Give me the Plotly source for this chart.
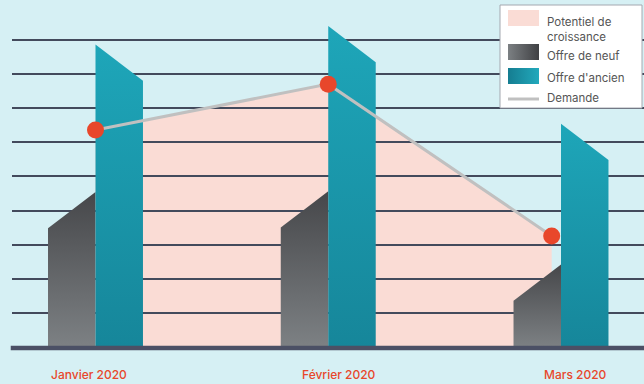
import plotly.graph_objects as go

# ---------------- data ----------------
months = ["Janvier 2020", "Février 2020", "Mars 2020"]
offre_neuf = [34.9, 35.1, 13.7]        # height of the new-supply bars (before slanted cap)
offre_ancien = [78.0, 83.4, 54.8]      # height of the old-supply bars (before slanted cap)
demande = [63.6, 77.0, 32.6]           # demand points
demande_pos = [0, 1, 1.96]             # category position of the demand points
label_pos = [-0.026, 1.046, 2.064]     # category position of the month labels
grid_vals = [10, 20, 30, 40, 50, 60, 70, 80, 90]
legend_labels = ["Potentiel de<br>croissance", "Offre de neuf", "Offre d'ancien", "Demande"]

# ---------------- style ----------------
BG = "#d6f0f4"
PINK = "#fadcd5"
GRID = "#434a5c"
BASE = "#4b5065"
RED = "#e8472b"
LINE = "#c0c0c0"
W = 0.204       # bar width in category units
CAP = 10.6      # slant of the bar tops

fig = go.Figure()

# bars
for i, (n, a) in enumerate(zip(offre_neuf, offre_ancien)):
    fig.add_trace(go.Scatter(
        x=[i - W, i - W, i, i, i - W], y=[0, n, n + CAP, 0, 0],
        mode="lines", line=dict(width=0), fill="toself",
        fillgradient=dict(type="vertical", colorscale=[[0, "#7d8184"], [1, "#46474a"]]),
        hoverinfo="skip", showlegend=False))
    fig.add_trace(go.Scatter(
        x=[i, i, i + W, i + W, i], y=[0, a + CAP, a, 0, 0],
        mode="lines", line=dict(width=0), fill="toself",
        fillgradient=dict(type="vertical", colorscale=[[0, "#16869a"], [1, "#1ea6b9"]]),
        hoverinfo="skip", showlegend=False))

# demand line + dots
fig.add_trace(go.Scatter(
    x=demande_pos, y=demande, mode="lines+markers",
    line=dict(color=LINE, width=3),
    marker=dict(size=17, color=RED, line=dict(width=0)),
    hoverinfo="skip", showlegend=False))

# pink "potentiel" area (below gridlines)
path = "M {} 0 ".format(demande_pos[0])
for x, y in zip(demande_pos, demande):
    path += "L {} {} ".format(x, y)
path += "L {} 0 Z".format(demande_pos[-1])
shapes = [
    dict(type="path", path=path, xref="x", yref="y", layer="below",
         fillcolor=PINK, line=dict(width=0)),
    dict(type="line", xref="paper", x0=-0.002, x1=1, yref="y", y0=-0.15, y1=-0.15,
         line=dict(color=BASE, width=4.5), layer="above"),
]

annotations = []
for lp, m in zip(label_pos, months):
    annotations.append(dict(x=lp, y=-7.8, xref="x", yref="y", text=m, showarrow=False,
                            xanchor="center", yanchor="middle",
                            font=dict(family="Inter", size=12, color=RED, weight=500)))

# ---------------- custom legend (pixel overlay axes) ----------------
fig.add_trace(go.Scatter(
    x=[500, 642, 642, 500, 500], y=[5, 5, 108, 108, 5], xaxis="x2", yaxis="y2",
    mode="lines", line=dict(color="#a4a8b0", width=1), fill="toself", fillcolor="white",
    hoverinfo="skip", showlegend=False))
fig.add_trace(go.Scatter(
    x=[508, 539, 539, 508, 508], y=[10, 10, 26, 26, 10], xaxis="x2", yaxis="y2",
    mode="lines", line=dict(width=0), fill="toself", fillcolor=PINK,
    hoverinfo="skip", showlegend=False))
fig.add_trace(go.Scatter(
    x=[508, 539, 539, 508, 508], y=[44, 44, 60, 60, 44], xaxis="x2", yaxis="y2",
    mode="lines", line=dict(width=0), fill="toself",
    fillgradient=dict(type="horizontal", colorscale=[[0, "#7c8083"], [1, "#3f4043"]]),
    hoverinfo="skip", showlegend=False))
fig.add_trace(go.Scatter(
    x=[508, 539, 539, 508, 508], y=[68, 68, 84, 84, 68], xaxis="x2", yaxis="y2",
    mode="lines", line=dict(width=0), fill="toself",
    fillgradient=dict(type="horizontal", colorscale=[[0, "#157d91"], [1, "#22a9bc"]]),
    hoverinfo="skip", showlegend=False))
fig.add_trace(go.Scatter(
    x=[508, 539], y=[99, 99], xaxis="x2", yaxis="y2",
    mode="lines", line=dict(color=LINE, width=3),
    hoverinfo="skip", showlegend=False))

for txt, yy in zip(legend_labels, [29, 56, 78, 98]):
    annotations.append(dict(x=545, y=yy, xref="x2", yref="y2", text=txt, showarrow=False,
                            xanchor="left", yanchor="middle", align="left",
                            font=dict(family="Inter", size=11.5, color="#555555")))

fig.update_layout(
    width=644, height=384,
    margin=dict(l=12, r=0, t=0, b=0),
    paper_bgcolor=BG, plot_bgcolor=BG,
    showlegend=False,
    xaxis=dict(range=[-0.3587, 2.3566], showgrid=False, zeroline=False,
               showticklabels=False, ticks="", fixedrange=True),
    yaxis=dict(range=[-10.67, 101.6], tickvals=grid_vals, showgrid=True,
               gridcolor=GRID, gridwidth=1.5, zeroline=False,
               showticklabels=False, ticks="", fixedrange=True),
    xaxis2=dict(range=[12, 644], overlaying="x", visible=False, fixedrange=True),
    yaxis2=dict(range=[384, 0], overlaying="y", visible=False, fixedrange=True),
    shapes=shapes,
    annotations=annotations,
)

fig.write_html("out.html")
